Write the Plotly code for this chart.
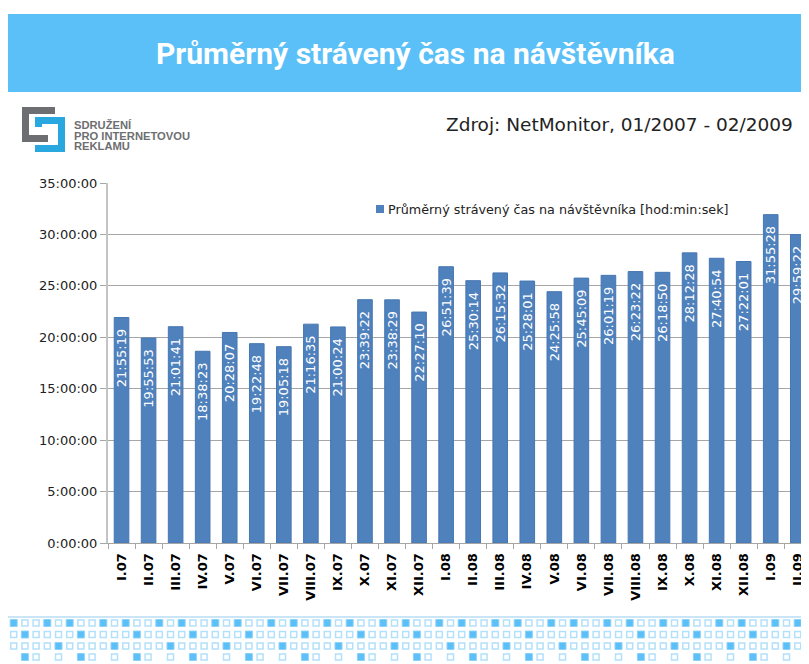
import plotly.graph_objects as go

# ---------------- data ----------------
categories = ["I.07", "II.07", "III.07", "IV.07", "V.07", "VI.07", "VII.07", "VIII.07",
              "IX.07", "X.07", "XI.07", "XII.07", "I.08", "II.08", "III.08", "IV.08",
              "V.08", "VI.08", "VII.08", "VIII.08", "IX.08", "X.08", "XI.08", "XII.08",
              "I.09", "II.09"]
time_labels = ["21:55:19", "19:55:53", "21:01:41", "18:38:23", "20:28:07", "19:22:48",
               "19:05:18", "21:16:35", "21:00:24", "23:39:22", "23:38:29", "22:27:10",
               "26:51:39", "25:30:14", "26:15:32", "25:28:01", "24:25:58", "25:45:09",
               "26:01:19", "26:23:22", "26:18:50", "28:12:28", "27:40:54", "27:22:01",
               "31:55:28", "29:59:22"]
tick_values = [0, 5, 10, 15, 20, 25, 30, 35]
tick_labels = ["0:00:00", "5:00:00", "10:00:00", "15:00:00", "20:00:00",
               "25:00:00", "30:00:00", "35:00:00"]
series_name = "Průměrný strávený čas na návštěvníka [hod:min:sek]"


def to_hours(s):
    h, m, sec = (int(p) for p in s.split(":"))
    return h + m / 60 + sec / 3600


values = [to_hours(s) for s in time_labels]

# ---------------- layout geometry ----------------
OFF = 8                      # page body margin
W, H = 809 - OFF, 664 - OFF
ML, MR, MT, MB = 108 - OFF, 0, 183 - OFF, H - (543 - OFF)
PW = W - ML - MR
PH = H - MT - MB
CAT_W = 27.05


def px(x):
    return (x - OFF - ML) / PW


def py(y):
    return (H - MB - (y - OFF)) / PH


BLUE = "#4F81BD"
BAND = "#5BC0F8"

fig = go.Figure()
fig.add_trace(go.Bar(
    x=categories, y=values, name=series_name,
    marker=dict(color=BLUE, line=dict(color="#4677B3", width=1)),
    width=0.54,
    text=[t + "\u00a0\u00a0" for t in time_labels],
    textposition="inside", insidetextanchor="end", textangle=-90,
    constraintext="none",
    textfont=dict(family="DejaVu Sans", size=13, color="white"),
    showlegend=False, hoverinfo="skip",
))

shapes = []
annotations = []

# title band
shapes.append(dict(type="rect", xref="paper", yref="paper", x0=px(5), x1=px(812),
                   y0=py(92), y1=py(14), fillcolor=BAND, line=dict(width=0), layer="below"))
annotations.append(dict(xref="paper", yref="paper", x=px(415), y=py(54),
                        text="<b>Průměrný strávený čas na návštěvníka</b>", showarrow=False,
                        xanchor="center", yanchor="middle",
                        font=dict(family="Roboto", size=30, color="white")))

# logo
GRAY = "#6D6E71"
LBLUE = "#29A8E0"
logo_rects = [
    (22, 107, 55, 114, GRAY), (22, 107, 29, 142, GRAY), (22, 135, 48, 142, GRAY),
    (35, 117, 65, 124, LBLUE), (58, 117, 65, 152, LBLUE), (35, 145, 65, 152, LBLUE),
    (35, 117, 42, 127, LBLUE),
]
for x0, y0, x1, y1, c in logo_rects:
    shapes.append(dict(type="rect", xref="paper", yref="paper", x0=px(x0), x1=px(x1),
                       y0=py(y1), y1=py(y0), fillcolor=c, line=dict(width=0)))
for i, t in enumerate(["SDRUŽENÍ", "PRO INTERNETOVOU", "REKLAMU"]):
    annotations.append(dict(xref="paper", yref="paper", x=px(72), y=py(125 + 10.5 * i),
                            text="<b>" + t + "</b>", showarrow=False, xanchor="left",
                            yanchor="middle",
                            font=dict(family="Liberation Sans", size=11.2, color="#6D6E71")))

# source
annotations.append(dict(xref="paper", yref="paper", x=px(795), y=py(125),
                        text="Zdroj: NetMonitor, 01/2007 - 02/2009", showarrow=False,
                        xanchor="right", yanchor="middle",
                        font=dict(family="DejaVu Sans", size=18.5, color="#222222")))

# legend (manual)
shapes.append(dict(type="rect", xref="paper", yref="paper", x0=px(376), x1=px(384),
                   y0=py(213), y1=py(205), fillcolor=BLUE, line=dict(width=0)))
annotations.append(dict(xref="paper", yref="paper", x=px(386), y=py(209),
                        text=series_name, showarrow=False, xanchor="left", yanchor="middle",
                        font=dict(family="DejaVu Sans", size=12.75, color="#222222")))

# bottom decoration
SQ_FILL = "#5BC0F8"
SQ_LINE = "#B3E0FA"
shapes.append(dict(type="line", xref="paper", yref="paper", x0=px(8), x1=px(812),
                   y0=py(617), y1=py(617), line=dict(color="#B8DDF2", width=1.5)))
row_y = [623, 634.5, 646, 657]
row_filled = [{0, 3}, {1}, {4}, {1}]
row_outline = [{1, 2, 4}, {0, 2, 3, 4}, {0, 1, 2, 3}, {2, 4}]
for r, yc in enumerate(row_y):
    for i in range(73):
        xc = 13.7 + 11.2 * i
        k = i % 5
        if k in row_filled[r]:
            shapes.append(dict(type="rect", xref="paper", yref="paper",
                               x0=px(xc - 3.5), x1=px(xc + 3.5), y0=py(yc + 3.5), y1=py(yc - 3.5),
                               fillcolor=SQ_FILL, line=dict(color="#8FD2F8", width=1)))
        elif k in row_outline[r]:
            shapes.append(dict(type="rect", xref="paper", yref="paper",
                               x0=px(xc - 3), x1=px(xc + 3), y0=py(yc + 3), y1=py(yc - 3),
                               fillcolor="white", line=dict(color=SQ_LINE, width=1.5)))

fig.update_layout(
    width=W, height=H,
    margin=dict(l=ML, r=MR, t=MT, b=MB, pad=0),
    paper_bgcolor="white", plot_bgcolor="white",
    shapes=shapes, annotations=annotations,
    xaxis=dict(type="category", range=[-0.5, -0.5 + PW / CAT_W],
               tickson="boundaries", ticks="outside", ticklen=5, tickcolor="#A6A6A6",
               tickangle=-90, showline=True, linecolor="#A6A6A6", linewidth=1,
               showgrid=False, ticklabelstandoff=4,
               tickfont=dict(family="DejaVu Sans", size=13, color="black", weight="bold")),
    yaxis=dict(range=[0, 35], tickvals=tick_values, ticktext=tick_labels,
               ticks="outside", ticklen=6, tickcolor="#A6A6A6",
               showline=True, linecolor="#C4C4C4", linewidth=2,
               showgrid=True, gridcolor="#A6A6A6", gridwidth=1, zeroline=False,
               tickfont=dict(family="DejaVu Sans", size=13, color="#222222")),
    bargap=0.46,
)

fig.write_html("out.html")
